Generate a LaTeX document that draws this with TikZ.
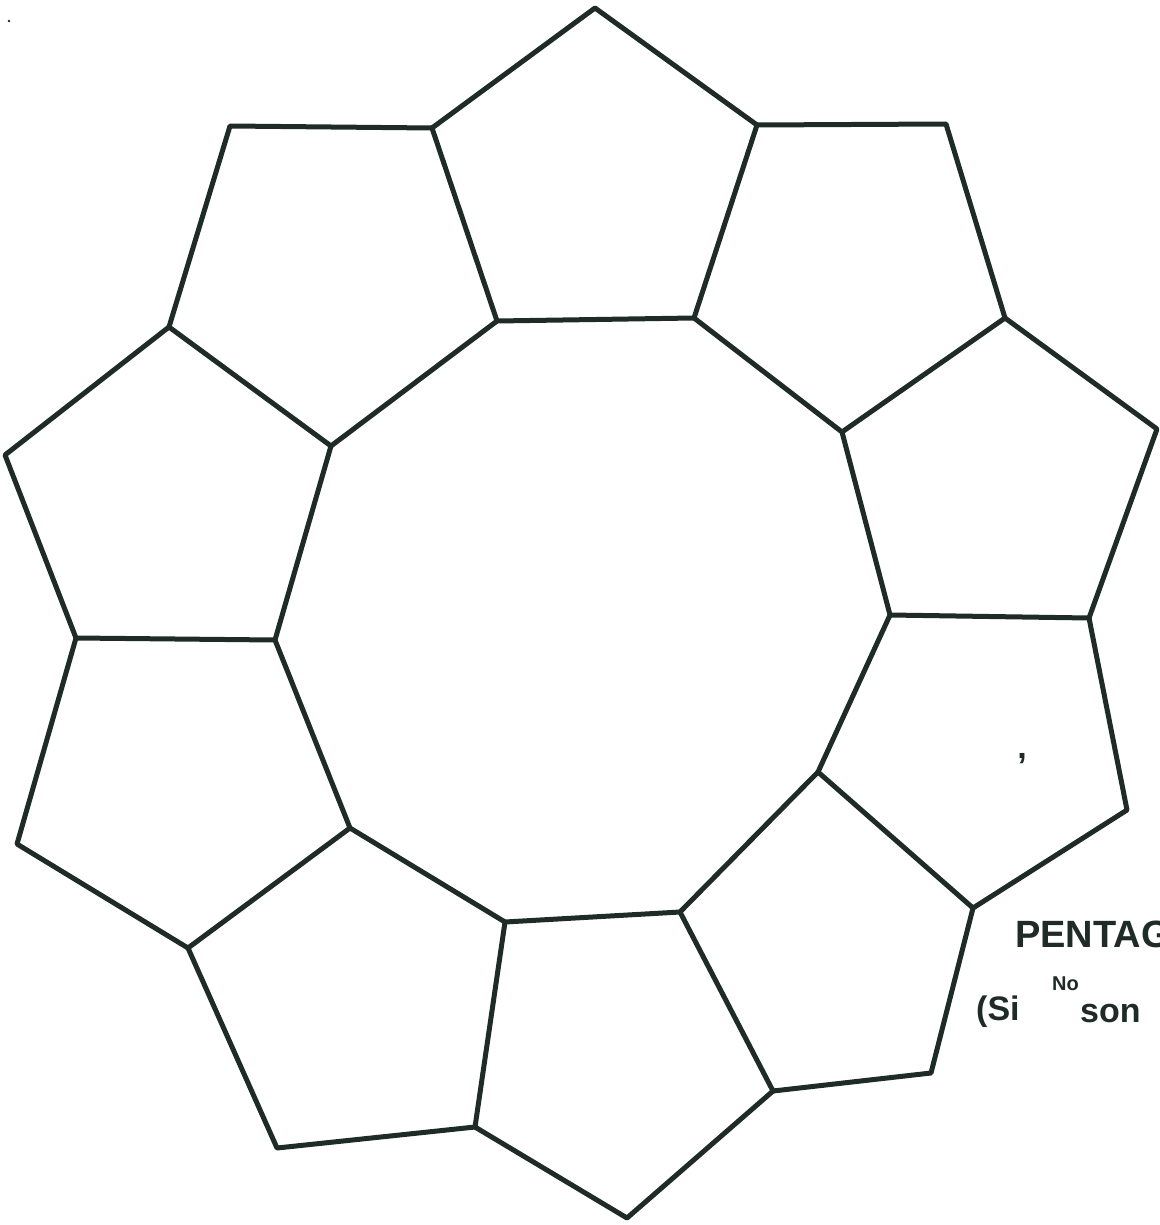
\documentclass[tikz,border=0pt]{standalone}
\usepackage{fontspec}
\setmainfont{Liberation Sans}
\definecolor{ink}{HTML}{1F2B27}
\begin{document}
\begin{tikzpicture}[x=1pt,y=-1pt,
  edge/.style={draw=ink,line width=5pt,line join=round,line cap=round},
  hand/.style={text=ink,inner sep=0pt,font=\bfseries\fontsize{38}{38}\selectfont}]
\useasboundingbox (0,0) rectangle (1159,1225);
\clip (0,0) rectangle (1159,1225);
% inner decagon vertices
\coordinate (i1) at (497,321);
\coordinate (i2) at (694,318);
\coordinate (i3) at (842,432);
\coordinate (i4) at (890,615);
\coordinate (i5) at (818,772);
\coordinate (i6) at (680,912);
\coordinate (i7) at (505,922);
\coordinate (i8) at (350,828);
\coordinate (i9) at (275,640);
\coordinate (i10) at (331,446);
% shared outer vertices
\coordinate (s1) at (432,128);
\coordinate (s2) at (757,125);
\coordinate (s3) at (1005,318);
\coordinate (s4) at (1089,618);
\coordinate (s5) at (973,908);
\coordinate (s6) at (773,1091);
\coordinate (s7) at (475,1127);
\coordinate (s8) at (188,948);
\coordinate (s9) at (76,638);
\coordinate (s10) at (169,327);
% pentagon tips
\coordinate (t1) at (595,8);
\coordinate (t2) at (946,124);
\coordinate (t3) at (1157,429);
\coordinate (t4) at (1127,810);
\coordinate (t5) at (931,1073);
\coordinate (t6) at (627,1218);
\coordinate (t7) at (277,1148);
\coordinate (t8) at (17,844);
\coordinate (t9) at (5,455);
\coordinate (t10) at (230,126);
% decagon
\draw[edge] (i1) -- (i2) -- (i3) -- (i4) -- (i5) -- (i6) -- (i7) -- (i8) -- (i9) -- (i10) -- cycle;
% spokes
\foreach \k in {1,...,10} \draw[edge] (i\k) -- (s\k);
% outer rims
\draw[edge] (s1) -- (t1) -- (s2);
\draw[edge] (s2) -- (t2) -- (s3);
\draw[edge] (s3) -- (t3) -- (s4);
\draw[edge] (s4) -- (t4) -- (s5);
\draw[edge] (s5) -- (t5) -- (s6);
\draw[edge] (s6) -- (t6) -- (s7);
\draw[edge] (s7) -- (t7) -- (s8);
\draw[edge] (s8) -- (t8) -- (s9);
\draw[edge] (s9) -- (t9) -- (s10);
\draw[edge] (s10) -- (t10) -- (s1);
% handwritten label
\node[hand,anchor=base west] (lab1) at (1015,947) {PENTAG};
\node[hand,anchor=base west,font=\bfseries\fontsize{34}{34}\selectfont] (lab2) at (976,1020) {(Si};
\node[hand,anchor=base west,font=\bfseries\fontsize{20}{20}\selectfont] (lab3) at (1052,990) {No};
\node[hand,anchor=base west,font=\bfseries\fontsize{34}{34}\selectfont] (lab4) at (1080,1022) {son};
% stray marks
\node[hand,anchor=base,font=\bfseries\fontsize{34}{34}\selectfont] (mk1) at (1022,758) {,};
\fill[ink] (9,21) circle (1.3);
\end{tikzpicture}
\end{document}
